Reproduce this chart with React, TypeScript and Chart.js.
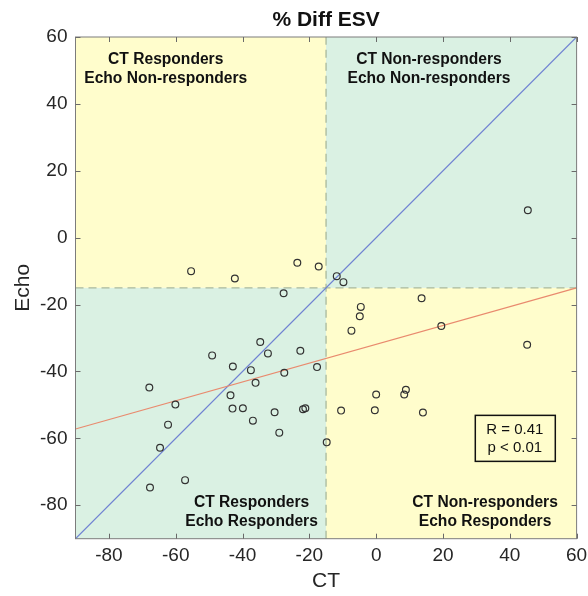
import React, { useEffect, useRef } from "react";
import { Chart, registerables } from "chart.js";

Chart.register(...registerables);

// ---- data ----
const ctValues = [
  -55.4, -42.3, -23.6, -17.2, -11.8, -27.7, -34.7, -49.1, -32.4, -22.7,
  -42.9, -37.5, -17.7, -27.5, -36.1, -67.9, -43.6, -60.1, -43.0, -39.9,
  -30.4, -21.9, -21.2, -36.9, -62.3, -29.0, -14.8, -64.7, -57.2, -67.7,
  45.4, -9.8, 13.6, -4.6, -4.9, -7.4, 19.5, 45.2, 8.9, 8.4, 0.0, -10.5, -0.4, 14.0,
];
const echoValues = [
  -10.0, -12.2, -7.5, -8.6, -11.5, -16.6, -31.2, -35.2, -34.6, -33.8,
  -38.5, -39.6, -38.7, -40.4, -43.4, -44.8, -47.1, -49.9, -51.1, -51.0,
  -52.2, -51.3, -51.0, -54.7, -55.9, -58.3, -61.2, -62.8, -72.5, -74.7,
  8.2, -13.3, -18.1, -20.7, -23.5, -27.8, -26.4, -32.0, -45.5, -46.9, -46.9, -51.7, -51.6, -52.3,
];
const axisMin = -90;
const axisMax = 60;
const xTicks = [-80, -60, -40, -20, 0, 20, 40, 60];
const yTicks = [-80, -60, -40, -20, 0, 20, 40, 60];
const threshold = -15;
const fitX = [-90, 60];
const fitY = [-57.2, -15.0];
const statLines = ["R = 0.41", "p < 0.01"];
const quadrantText = [
  ["CT Responders", "Echo Non-responders"],
  ["CT Non-responders", "Echo Non-responders"],
  ["CT Responders", "Echo Responders"],
  ["CT Non-responders", "Echo Responders"],
];
// anchor (data coords) of each quadrant label block (centre x, first line y)
const quadrantAnchors = [
  [-63, 53.2],
  [15.8, 53.2],
  [-37.3, -79.2],
  [32.6, -79.2],
];
const statAnchor = [41.5, -60];

const FONT = "'Liberation Sans', Arial, Helvetica, sans-serif";

const decorPlugin = {
  id: "decor",
  beforeDatasetsDraw(chart: any) {
    const { ctx, chartArea: a, scales } = chart;
    const tx = scales.x.getPixelForValue(threshold);
    const ty = scales.y.getPixelForValue(threshold);
    ctx.save();
    ctx.fillStyle = "#fffdcc";
    ctx.fillRect(a.left, a.top, tx - a.left, ty - a.top);
    ctx.fillRect(tx, ty, a.right - tx, a.bottom - ty);
    ctx.fillStyle = "#daf1e3";
    ctx.fillRect(tx, a.top, a.right - tx, ty - a.top);
    ctx.fillRect(a.left, ty, tx - a.left, a.bottom - ty);
    ctx.restore();
  },
  afterDatasetsDraw(chart: any) {
    const { ctx, chartArea: a, scales } = chart;
    const xs = scales.x;
    const ys = scales.y;
    ctx.save();
    // quadrant labels
    ctx.fillStyle = "#111";
    ctx.font = `bold 15.6px ${FONT}`;
    ctx.textAlign = "center";
    ctx.textBaseline = "middle";
    quadrantText.forEach((lines, i) => {
      const cx = xs.getPixelForValue(quadrantAnchors[i][0]);
      const cy = ys.getPixelForValue(quadrantAnchors[i][1]);
      lines.forEach((t, j) => ctx.fillText(t, cx, cy + j * 19));
    });
    // stats box
    const sx = xs.getPixelForValue(statAnchor[0]);
    const sy = ys.getPixelForValue(statAnchor[1]);
    ctx.strokeStyle = "#111";
    ctx.lineWidth = 1.5;
    ctx.strokeRect(sx - 39.5, sy - 23, 80, 46);
    ctx.font = `15px ${FONT}`;
    statLines.forEach((t, j) => ctx.fillText(t, sx, sy - 9 + j * 18.5));
    // frame
    ctx.strokeStyle = "#7c7c7c";
    ctx.lineWidth = 1;
    ctx.strokeRect(a.left, a.top, a.right - a.left, a.bottom - a.top);
    // inner tick marks
    ctx.strokeStyle = "#6a6a6a";
    ctx.beginPath();
    xTicks.forEach((v) => {
      const p = Math.round(xs.getPixelForValue(v)) + 0.5;
      ctx.moveTo(p, a.bottom);
      ctx.lineTo(p, a.bottom - 5);
      ctx.moveTo(p, a.top);
      ctx.lineTo(p, a.top + 5);
    });
    yTicks.forEach((v) => {
      const p = Math.round(ys.getPixelForValue(v)) + 0.5;
      ctx.moveTo(a.left, p);
      ctx.lineTo(a.left + 5, p);
      ctx.moveTo(a.right, p);
      ctx.lineTo(a.right - 5, p);
    });
    ctx.stroke();
    ctx.restore();
  },
};

export default function App() {
  const ref = useRef<HTMLCanvasElement | null>(null);
  useEffect(() => {
    if (!ref.current) return;
    const points = ctValues.map((x, i) => ({ x, y: echoValues[i] }));
    const chart = new Chart(ref.current, {
      type: "scatter",
      data: {
        datasets: [
          {
            data: points,
            pointStyle: "circle",
            pointRadius: 3.4,
            pointBorderWidth: 1.2,
            borderColor: "#333333",
            backgroundColor: "rgba(0,0,0,0)",
            showLine: false,
          } as any,
          {
            data: fitX.map((x, i) => ({ x, y: fitY[i] })),
            showLine: true,
            pointRadius: 0,
            borderColor: "#e98a6e",
            borderWidth: 1.2,
          },
          {
            data: [
              { x: axisMin, y: axisMin },
              { x: axisMax, y: axisMax },
            ],
            showLine: true,
            pointRadius: 0,
            borderColor: "#6f82d2",
            borderWidth: 1.2,
          },
          {
            data: [
              { x: threshold, y: axisMin },
              { x: threshold, y: axisMax },
            ],
            showLine: true,
            pointRadius: 0,
            borderColor: "#a9b99c",
            borderWidth: 1.3,
            borderDash: [8, 5],
          },
          {
            data: [
              { x: axisMin, y: threshold },
              { x: axisMax, y: threshold },
            ],
            showLine: true,
            pointRadius: 0,
            borderColor: "#a9b99c",
            borderWidth: 1.3,
            borderDash: [8, 5],
          },
        ],
      },
      options: {
        responsive: false,
        animation: false,
        devicePixelRatio: 1,
        layout: { padding: { left: 0, right: 11.4, top: 0, bottom: 0 } },
        plugins: {
          legend: { display: false },
          tooltip: { enabled: false },
          title: {
            display: true,
            text: "% Diff ESV",
            fullSize: false,
            color: "#111",
            font: { family: FONT, size: 21, weight: "bold" },
            padding: { top: 7.5, bottom: 4.3 },
          },
        },
        scales: {
          x: {
            type: "linear",
            min: axisMin,
            max: axisMax,
            afterBuildTicks: (s: any) => {
              s.ticks = xTicks.map((v) => ({ value: v }));
            },
            afterFit: (s: any) => {
              s.height = 57.3;
              s.paddingLeft = 0;
              s.paddingRight = 0;
            },
            grid: { display: false, drawTicks: false },
            border: { display: false },
            ticks: {
              color: "#262626",
              font: { family: FONT, size: 19 },
              padding: 6,
              maxRotation: 0,
            },
            title: {
              display: true,
              text: "CT",
              color: "#262626",
              font: { family: FONT, size: 21 },
              padding: { top: 0, bottom: 2.4 },
            },
          },
          y: {
            type: "linear",
            min: axisMin,
            max: axisMax,
            afterBuildTicks: (s: any) => {
              s.ticks = yTicks.map((v) => ({ value: v }));
            },
            afterFit: (s: any) => {
              s.width = 75.5;
              s.paddingTop = 0;
              s.paddingBottom = 0;
            },
            grid: { display: false, drawTicks: false },
            border: { display: false },
            ticks: {
              color: "#262626",
              font: { family: FONT, size: 19 },
              padding: 8,
            },
            title: {
              display: true,
              text: "Echo",
              color: "#262626",
              font: { family: FONT, size: 21 },
              padding: { top: 10.5, bottom: 0 },
            },
          },
        },
      } as any,
      plugins: [decorPlugin],
    });
    return () => chart.destroy();
  }, []);
  return (
    <div style={{ position: "fixed", left: 0, top: 0, width: 588, height: 596, background: "#fff" }}>
      <canvas ref={ref} width={588} height={596} />
    </div>
  );
}
